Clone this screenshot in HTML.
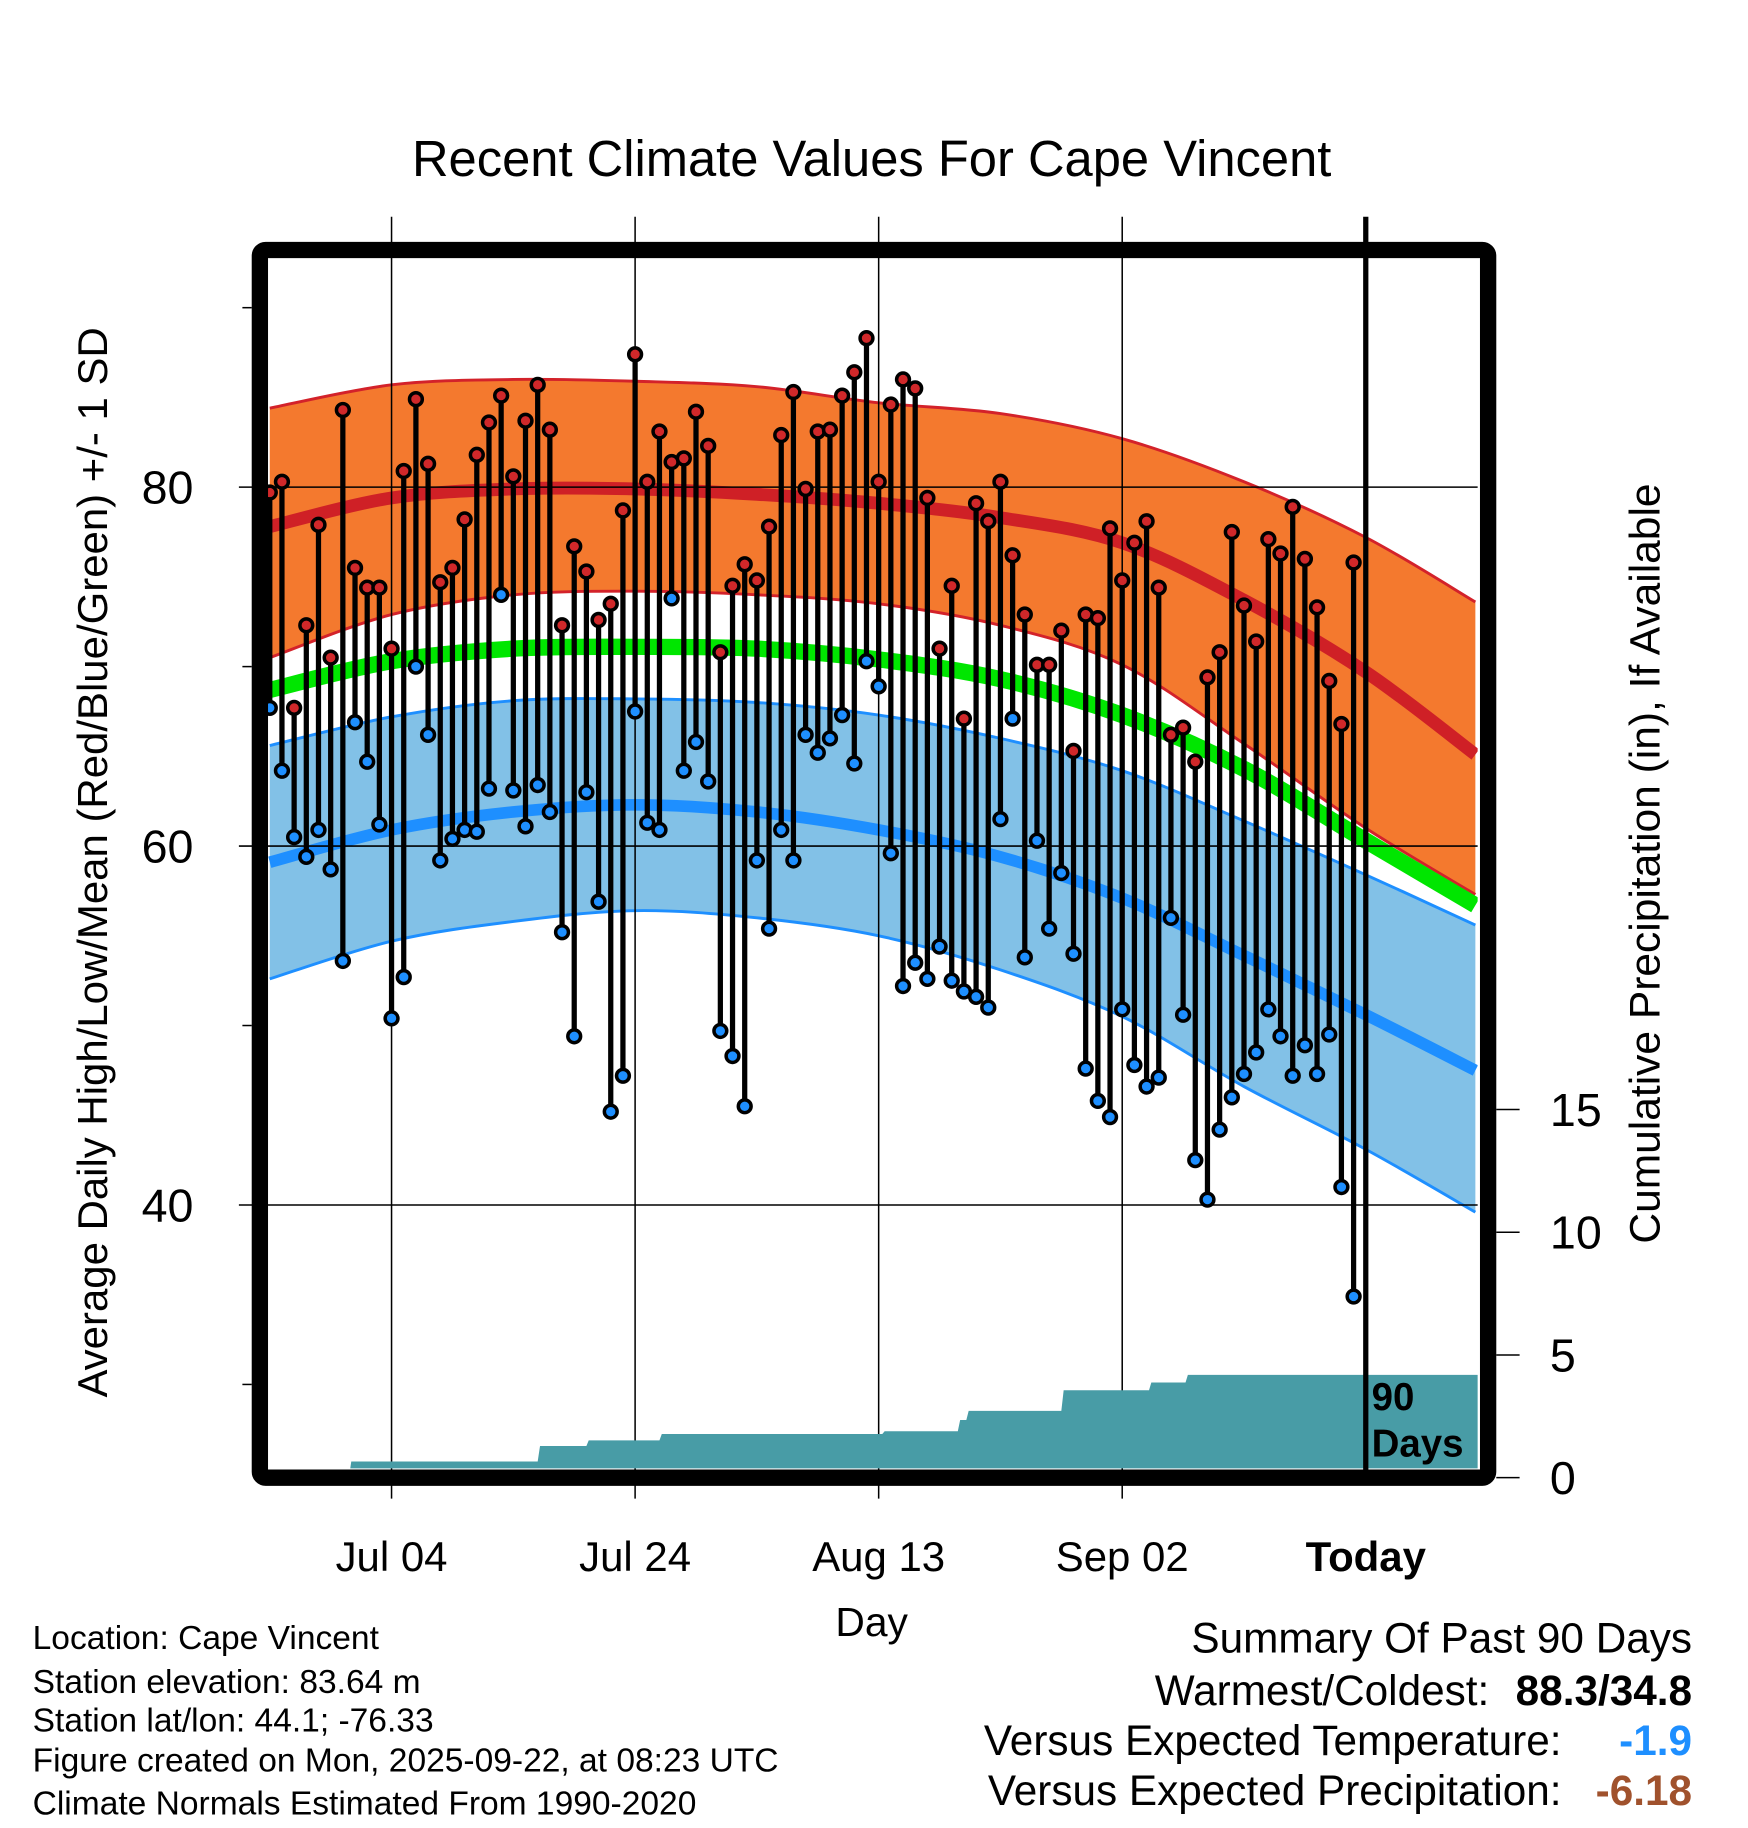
<!DOCTYPE html>
<html><head><meta charset="utf-8"><style>
html,body{margin:0;padding:0;background:#fff;}
svg{display:block;font-family:"Liberation Sans",Arial,sans-serif;}
</style></head><body>
<svg id="chart" width="1748" height="1828" viewBox="0 0 1500 1568.6" xmlns="http://www.w3.org/2000/svg">
<defs><clipPath id="clip"><rect x="230" y="222" width="1038" height="1038"/></clipPath></defs>
<text x="748" y="151" font-size="43.5" text-anchor="middle">Recent Climate Values For Cape Vincent</text>
<g id="bands" clip-path="url(#clip)"></g>
<g id="grid"></g>
<g id="precip" clip-path="url(#clip)"></g>
<g id="marks"></g>
<g id="axes"></g>
<text transform="translate(92,740) rotate(-90)" font-size="36" text-anchor="middle">Average Daily High/Low/Mean (Red/Blue/Green) +/- 1 SD</text>
<text transform="translate(1424,741) rotate(-90)" font-size="36.5" text-anchor="middle">Cumulative Precipitation (in), If Available</text>
<text x="748" y="1404" font-size="35" text-anchor="middle">Day</text>
<g font-size="28.8">
<text x="28" y="1415">Location: Cape Vincent</text>
<text x="28" y="1453">Station elevation: 83.64 m</text>
<text x="28" y="1486">Station lat/lon: 44.1; -76.33</text>
<text x="28" y="1520">Figure created on Mon, 2025-09-22, at 08:23 UTC</text>
<text x="28" y="1557">Climate Normals Estimated From 1990-2020</text>
</g>
<g font-size="36.3" text-anchor="end">
<text x="1452" y="1418">Summary Of Past 90 Days</text>
<text x="1278" y="1463">Warmest/Coldest:</text>
<text x="1452" y="1463" font-weight="bold">88.3/34.8</text>
<text x="1340" y="1506">Versus Expected Temperature:</text>
<text x="1452" y="1506" font-weight="bold" fill="#1e8fff">-1.9</text>
<text x="1340" y="1549">Versus Expected Precipitation:</text>
<text x="1452" y="1549" font-weight="bold" fill="#a0522d">-6.18</text>
</g>
</svg>
<script>
// daily highs/lows, day offsets -90..-1 relative to today
const highs=[79.7,80.3,67.7,72.3,77.9,70.5,84.3,75.5,74.4,74.4,71.0,80.9,84.9,81.3,74.7,75.5,78.2,81.8,83.6,85.1,80.6,83.7,85.7,83.2,72.3,76.7,75.3,72.6,73.5,78.7,87.4,80.3,83.1,81.4,81.6,84.2,82.3,70.8,74.5,75.7,74.8,77.8,82.9,85.3,79.9,83.1,83.2,85.1,86.4,88.3,80.3,84.6,86.0,85.5,79.4,71.0,74.5,67.1,79.1,78.1,80.3,76.2,72.9,70.1,70.1,72.0,65.3,72.9,72.7,77.7,74.8,76.9,78.1,74.4,66.2,66.6,64.7,69.4,70.8,77.5,73.4,71.4,77.1,76.3,78.9,76.0,73.3,69.2,66.8,75.8];
const lows=[67.7,64.2,60.5,59.4,60.9,58.7,53.6,66.9,64.7,61.2,50.4,52.7,70.0,66.2,59.2,60.4,60.9,60.8,63.2,74.0,63.1,61.1,63.4,61.9,55.2,49.4,63.0,56.9,45.2,47.2,67.5,61.3,60.9,73.8,64.2,65.8,63.6,49.7,48.3,45.5,59.2,55.4,60.9,59.2,66.2,65.2,66.0,67.3,64.6,70.3,68.9,59.6,52.2,53.5,52.6,54.4,52.5,51.9,51.6,51.0,61.5,67.1,53.8,60.3,55.4,58.5,54.0,47.6,45.8,44.9,50.9,47.8,46.6,47.1,56.0,50.6,42.5,40.3,44.2,46.0,47.3,48.5,50.9,49.4,47.2,48.9,47.3,49.5,41.0,34.9];
// normals sampled every 10 days
const normDays=[-90,-80,-70,-60,-50,-40,-30,-20,-10,0,9];
const highMean=[77.8,79.4,79.9,79.9,79.6,79.1,78.3,76.9,73.7,69.7,65.1];
const highUpper=[84.4,85.7,86.0,85.9,85.6,84.7,84.1,82.7,80.3,77.2,73.6];
const highLower=[70.5,72.9,74.0,74.2,74.0,73.5,72.3,70.1,65.7,61.0,57.3];
const avgMean=[68.7,70.3,71.0,71.1,71.0,70.4,69.3,67.3,64.3,60.3,56.7];
const lowUpper=[65.6,67.2,68.1,68.2,68.0,67.3,66.0,64.2,61.4,58.4,55.6];
const lowMean=[59.1,60.9,61.9,62.3,61.9,60.9,59.4,57.1,53.9,50.6,47.5];
const lowLower=[52.6,54.7,55.8,56.4,56.0,55.0,53.1,50.5,46.6,43.1,39.6];
// cumulative precipitation (in) at day offsets (step changes)
const precipDays=[-90,-83.5,-68,-64,-58,-39.7,-33.5,-32.8,-25,-17.8,-14.8,10];
const precipCum=[0,0.66,1.29,1.52,1.78,1.89,2.35,2.72,3.56,3.88,4.19,4.19];
const tempTicks=[40,60,80];
const tempMinor=[30,50,70,90];
const precipTicks=[0,5,10,15];
const dateLabels=["Jul 04","Jul 24","Aug 13","Sep 02","Today"];
const dateOffsets=[-80,-60,-40,-20,0];

const NS="http://www.w3.org/2000/svg";
const xD=d=>1172+d*10.45;
const yT=t=>418+(80-t)*15.4;
const yP=p=>1268-p*21.06;
function el(tag,attrs,parent){const e=document.createElementNS(NS,tag);for(const k in attrs)e.setAttribute(k,attrs[k]);parent.appendChild(e);return e;}
function smooth(pts){let d="M"+pts[0][0]+","+pts[0][1];for(let i=0;i<pts.length-1;i++){const p0=pts[i-1]||pts[i],p1=pts[i],p2=pts[i+1],p3=pts[i+2]||p2;
d+=" C"+(p1[0]+(p2[0]-p0[0])/6)+","+(p1[1]+(p2[1]-p0[1])/6)+" "+(p2[0]-(p3[0]-p1[0])/6)+","+(p2[1]-(p3[1]-p1[1])/6)+" "+p2[0]+","+p2[1];}return d;}
const P=arr=>normDays.map((d,i)=>[xD(d),yT(arr[i])]);
function band(up,lo,fill,edge,name){const a=P(up),b=P(lo).reverse();
const d=smooth(a)+" L"+b[0][0]+","+b[0][1]+smooth(b).replace(/^M[^C]*/," ")+" Z";
const e=el("path",{d:d,fill:fill,stroke:"none"},bands);


const u=el("path",{d:smooth(a),fill:"none",stroke:edge,"stroke-width":2.5},bands);


const l=el("path",{d:smooth(P(lo)),fill:"none",stroke:edge,"stroke-width":2.5},bands);

}
const bands=document.getElementById("bands");
band(highUpper,highLower,"#f4792e","#d3222a","high-sd-band");
const rm=el("path",{d:smooth(P(highMean)),fill:"none",stroke:"#cf2026","stroke-width":11},bands);


band(lowUpper,lowLower,"#82c1e7","#1e8fff","low-sd-band");
const bm=el("path",{d:smooth(P(lowMean)),fill:"none",stroke:"#1e8fff","stroke-width":10},bands);


const gm=el("path",{d:smooth(P(avgMean)),fill:"none",stroke:"#00e600","stroke-width":14},bands);



const grid=document.getElementById("grid");
tempTicks.forEach(t=>{const g=el("line",{x1:205,x2:1268,y1:yT(t),y2:yT(t),stroke:"#000","stroke-width":1.3},grid);


const lb=el("text",{x:166,y:yT(t)+14,"font-size":40,"text-anchor":"end"},grid);lb.textContent=t;

});
tempMinor.forEach(t=>{const g=el("line",{x1:208,x2:216,y1:yT(t),y2:yT(t),stroke:"#000","stroke-width":1.3},grid);

});
dateOffsets.forEach((d,i)=>{if(d!==0){const g=el("line",{x1:xD(d),x2:xD(d),y1:186,y2:1286,stroke:"#000","stroke-width":1.3},grid);

}
const lb=el("text",{x:xD(d),y:1348,"font-size":36,"text-anchor":"middle","font-weight":d===0?"bold":"normal"},grid);lb.textContent=dateLabels[i];

});
precipTicks.forEach(p=>{const g=el("line",{x1:1284,x2:1304,y1:yP(p),y2:yP(p),stroke:"#000","stroke-width":1.3},grid);


const lb=el("text",{x:1330,y:yP(p)+14,"font-size":40},grid);lb.textContent=p;

});

const pg=document.getElementById("precip");
let pd="M"+xD(precipDays[0])+",1268";
precipDays.forEach((d,i)=>{const prev=i>0?precipCum[i-1]:0;pd+=" L"+xD(d)+","+yP(prev)+" L"+(xD(d)+2)+","+yP(precipCum[i]);});
pd+=" L"+xD(precipDays[precipDays.length-1])+",1268 Z";
const pa=el("path",{d:pd,fill:"#489ca6"},pg);



const mk=document.getElementById("marks");
highs.forEach((h,i)=>{const x=xD(i-90);
const s=el("line",{x1:x,x2:x,y1:yT(h),y2:yT(lows[i]),stroke:"#000","stroke-width":4.5},mk);

});
highs.forEach((h,i)=>{const x=xD(i-90);
const a=el("circle",{cx:x,cy:yT(h),r:5.5,fill:"#d0282a",stroke:"#000","stroke-width":3},mk);


const b=el("circle",{cx:x,cy:yT(lows[i]),r:5.5,fill:"#1e8fff",stroke:"#000","stroke-width":3},mk);

});

const ax=document.getElementById("axes");
const tl=el("line",{x1:xD(0),x2:xD(0),y1:186,y2:1268,stroke:"#000","stroke-width":4.5},ax);


const t1=el("text",{x:1177,y:1210,"font-size":33,"font-weight":"bold"},ax);t1.textContent="90";


const t2=el("text",{x:1177,y:1250,"font-size":33,"font-weight":"bold"},ax);t2.textContent="Days";


const fr=el("rect",{x:223,y:214.5,width:1054,height:1053.5,rx:5,fill:"none",stroke:"#000","stroke-width":14},ax);


</script>
</body></html>
